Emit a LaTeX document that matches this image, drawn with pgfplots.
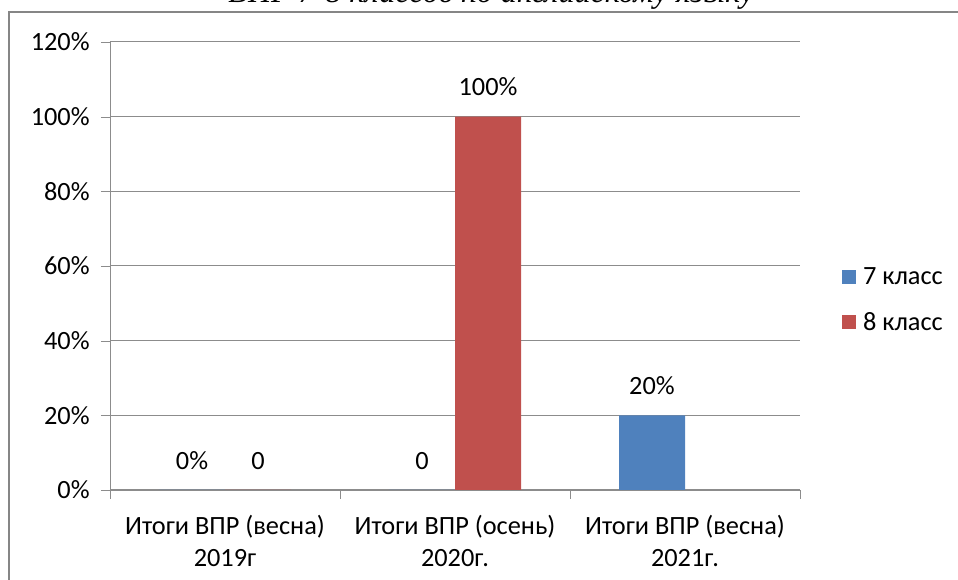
\documentclass[border=0pt]{standalone}
\usepackage{fontspec}
\setmainfont{Carlito}
\newfontfamily\titlefont{Liberation Serif}
\usepackage{pgfplots}
\pgfplotsset{compat=1.18}
\definecolor{cblue}{HTML}{4F81BD}
\definecolor{cred}{HTML}{C0504D}
\definecolor{gridgray}{HTML}{8C8C8C}
\definecolor{framegray}{HTML}{868686}
\begin{document}
\begin{tikzpicture}
\useasboundingbox (0pt,0pt) rectangle (718.5pt,-435pt);
\clip (0pt,0pt) rectangle (718.5pt,-435pt);
\draw[framegray, line width=1.5pt] (6.5pt,-9pt) rectangle (740pt,-460pt);
\node[anchor=base, inner sep=0pt, font=\titlefont\itshape\fontsize{24pt}{30pt}\selectfont] at (368.5pt,-1.8pt) {ВПР 7-8 классов по английскому языку};
\begin{axis}[
  at={(82.5pt,-367.5pt)}, anchor=south west,
  scale only axis, width=517.5pt, height=336pt,
  ybar=0pt, bar width=49.5pt,
  xmin=-0.5, xmax=2.5, ymin=0, ymax=120,
  axis x line*=bottom, axis y line*=left,
  axis line style={gridgray},
  ymajorgrids, grid style={gridgray, line width=0.75pt},
  ytick={0,20,40,60,80,100,120},
  yticklabels={0\%,20\%,40\%,60\%,80\%,100\%,120\%},
  xtick={0,1,2},
  xticklabels={{Итоги ВПР (весна)\\2019г},{Итоги ВПР (осень)\\2020г.},{Итоги ВПР (весна)\\2021г.}},
  minor xtick={-0.5,0.5,1.5,2.5},
  tick align=outside,
  major x tick style={draw=none},
  minor x tick style={gridgray},
  major y tick style={gridgray},
  minor tick length=6.75pt, major tick length=6.75pt,
  tick label style={font=\fontsize{19.75pt}{24pt}\selectfont, text=black},
  xticklabel style={align=center, yshift=-8.5pt},
  yticklabel style={xshift=-5pt},
  /pgf/number format/assume math mode=true,
  point meta=explicit symbolic,
  nodes near coords,
  every node near coord/.append style={font=\fontsize{19.75pt}{24pt}\selectfont, text=black, yshift=12pt},
  legend style={at={(axis description cs:1.06,0.424)}, anchor=west, draw=none, fill=none,
    font=\fontsize{19.75pt}{24pt}\selectfont, row sep=17pt, inner sep=0pt,
    nodes={inner sep=1pt}},
  legend cell align=left,
  legend image code/.code={\fill[#1] (0pt,-5.25pt) rectangle (10.5pt,5.25pt); \path (15pt,0pt);},
]
\addplot[fill=cblue, draw=none] coordinates {(0,0)[0\%] (1,0)[0] (2,20)[20\%]};
\addplot[fill=cred, draw=none] coordinates {(0,0)[0] (1,100)[100\%]};
\legend{7 класс, 8 класс}
\end{axis}
\end{tikzpicture}
\end{document}
